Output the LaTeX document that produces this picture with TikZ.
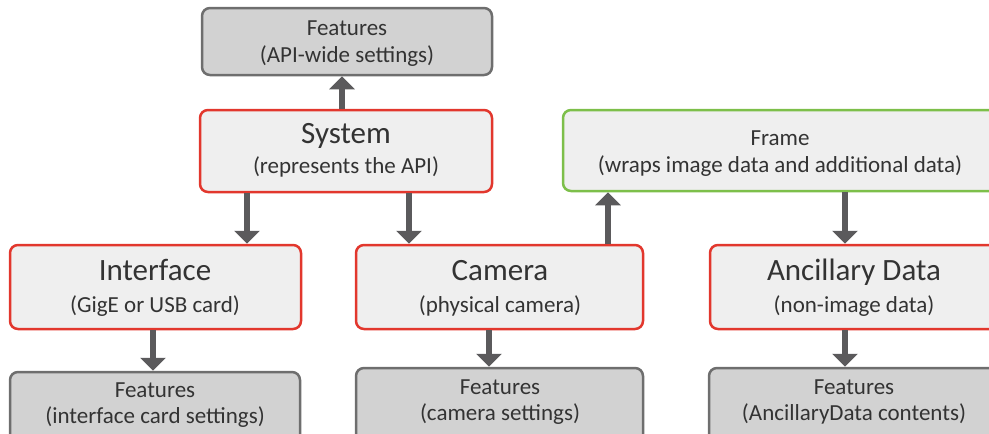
\documentclass[tikz,border=0pt]{standalone}
\usepackage{fontspec}
\setmainfont{Carlito}
\usetikzlibrary{arrows.meta,fit}
\definecolor{objred}{HTML}{E2372D}
\definecolor{objgreen}{HTML}{7DBF4A}
\definecolor{objfill}{HTML}{EFEFEF}
\definecolor{featfill}{HTML}{D2D2D2}
\definecolor{featdraw}{HTML}{6E6E6E}
\definecolor{arrcol}{HTML}{5B5A5C}
\definecolor{txt}{HTML}{333333}
\tikzset{
  objbox/.style={draw=objred, fill=objfill, line width=2.5pt, rounded corners=8pt, inner sep=0pt},
  framebox/.style={objbox, draw=objgreen},
  featbox/.style={draw=featdraw, fill=featfill, line width=2.5pt, rounded corners=8pt, inner sep=0pt},
  big/.style={anchor=base, text=txt, inner sep=0pt, font=\fontsize{31}{35}\selectfont},
  small/.style={anchor=base, text=txt, inner sep=0pt, font=\fontsize{23}{27}\selectfont},
  arr/.style={draw=arrcol, line width=6.5pt, -{Triangle[width=25pt,length=13pt]}, arrcol}
}
\begin{document}
\begin{tikzpicture}[x=1pt,y=-1pt]
\useasboundingbox (0,0) rectangle (989,434);
\clip (0,0) rectangle (989,434);
% boxes
\node[featbox, fit={(202,8) (492,75)}] (featsys) {};
\node[objbox, fit={(200,110) (492,192)}] (system) {};
\node[objbox, fit={(10,245) (301,329)}] (interface) {};
\node[objbox, fit={(356,245) (643,329)}] (camera) {};
\node[framebox, fit={(563,110) (1010,191)}] (frame) {};
\node[objbox, fit={(710,245) (1010,329)}] (ancillary) {};
\node[featbox, fit={(10,372) (300,450)}] (featif) {};
\node[featbox, fit={(356,368) (643,450)}] (featcam) {};
\node[featbox, fit={(709,368) (1010,450)}] (featanc) {};
% texts
\node[small] (t1) at (347,35) {Features};
\node[small] (t2) at (347,62) {(API-wide settings)};
\node[big] (t3) at (346,143) {System};
\node[small] (t4) at (346,173) {(represents the API)};
\node[small] (t5) at (780,145) {Frame};
\node[small] (t6) at (780,172) {(wraps image data and additional data)};
\node[big] (t7) at (155,280) {Interface};
\node[small] (t8) at (155,312) {(GigE or USB card)};
\node[big] (t9) at (500,280) {Camera};
\node[small] (t10) at (500,312) {(physical camera)};
\node[big] (t11) at (854,280) {Ancillary Data};
\node[small] (t12) at (854,312) {(non-image data)};
\node[small] (t13) at (155,397) {Features};
\node[small] (t14) at (155,423) {(interface card settings)};
\node[small] (t15) at (500,394) {Features};
\node[small] (t16) at (500,420) {(camera settings)};
\node[small] (t17) at (854,394) {Features};
\node[small] (t18) at (854,420) {(AncillaryData contents)};
% arrows
\draw[arr] ([xshift=-4pt]system.north) -- ([xshift=-5pt]featsys.south);
\draw[arr] ([xshift=-99pt]system.south) -- (interface.north -| {(247,0)});
\draw[arr] ([xshift=63pt]system.south) -- (camera.north -| {(409,0)});
\draw[arr] (camera.north -| {(608,0)}) -- (frame.south -| {(608,0)});
\draw[arr] (frame.south -| {(845,0)}) -- (ancillary.north -| {(845,0)});
\draw[arr] (interface.south -| {(153,0)}) -- (featif.north -| {(153,0)});
\draw[arr] (camera.south -| {(489,0)}) -- (featcam.north -| {(489,0)});
\draw[arr] (ancillary.south -| {(845,0)}) -- (featanc.north -| {(845,0)});
\end{tikzpicture}
\end{document}
